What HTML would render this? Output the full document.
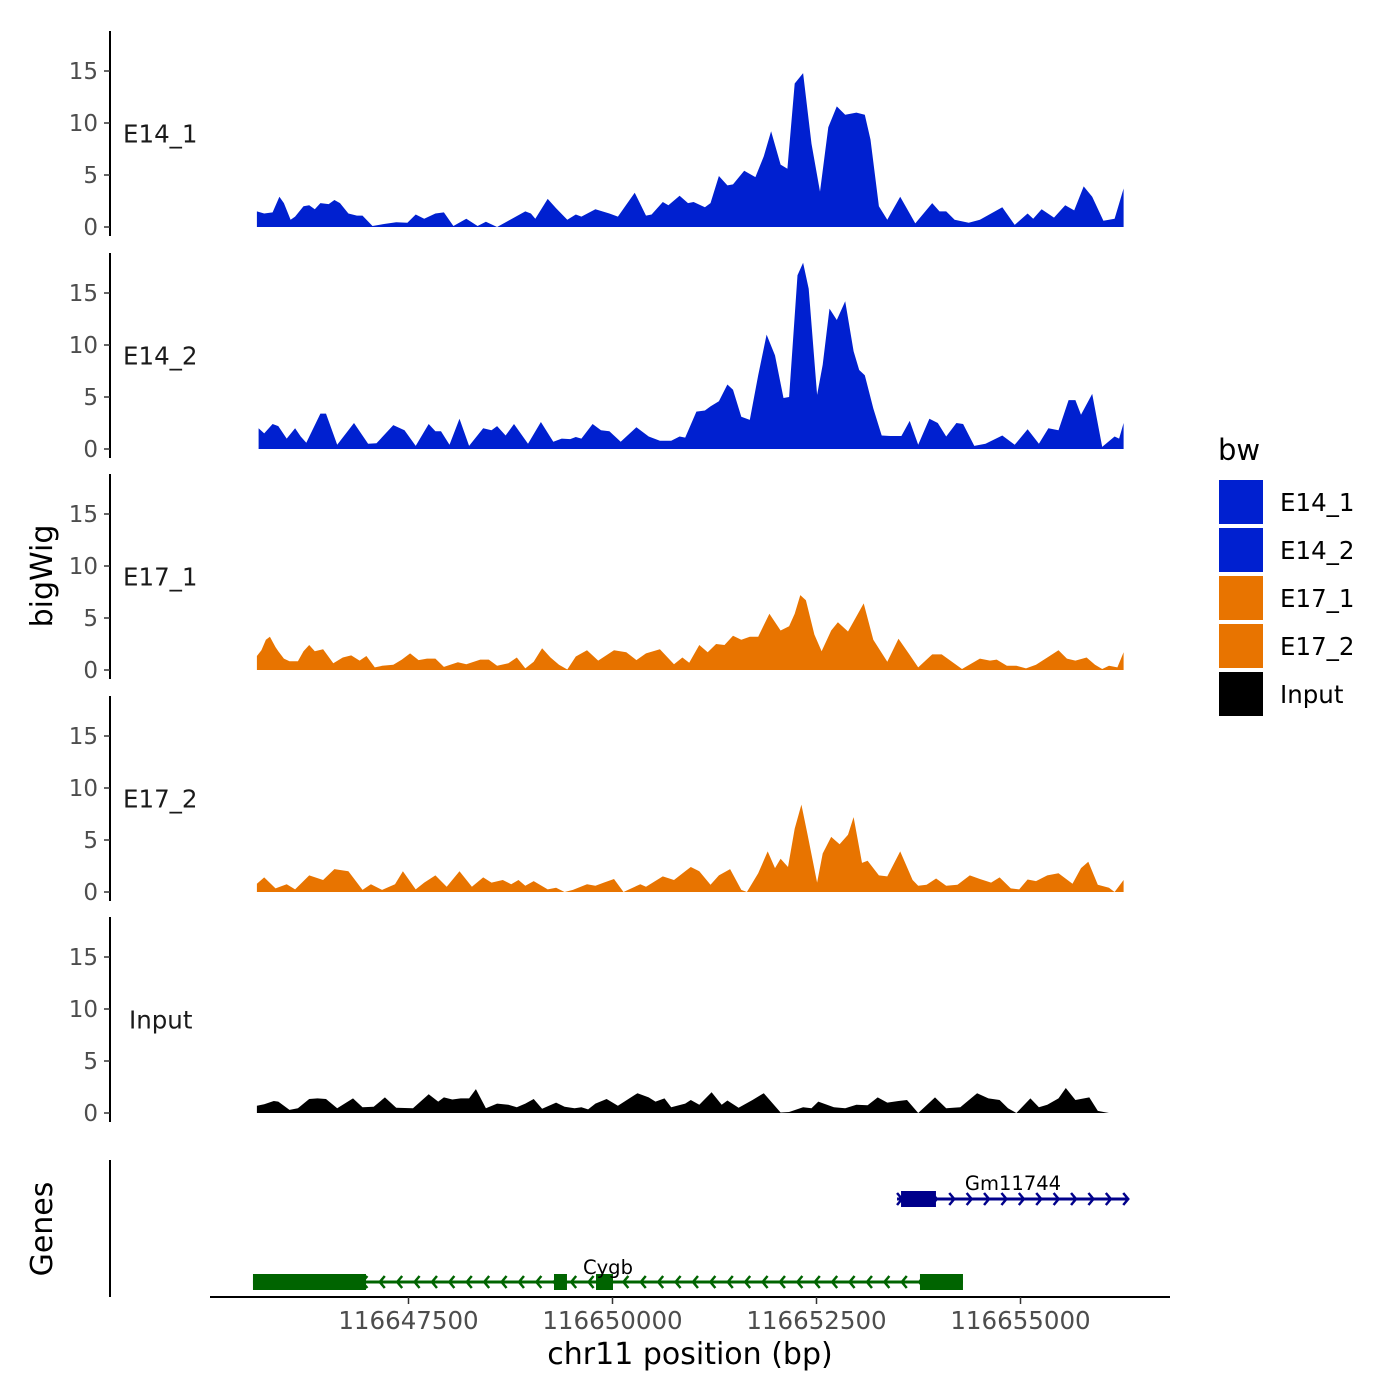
<!DOCTYPE html>
<html><head><meta charset="utf-8"><style>
html,body{margin:0;padding:0;background:#fff;}
svg{display:block;font-family:"DejaVu Sans","Liberation Sans",sans-serif;}
</style></head><body>
<svg id="chart" width="1400" height="1400" viewBox="0 0 1400 1400">
<rect width="1400" height="1400" fill="#fff"/>
<g id="tracks"></g>
<g id="genes"></g>
<g id="xaxis"></g>
<text x="52" y="576" transform="rotate(-90 52 576)" text-anchor="middle" font-size="30" fill="#000">bigWig</text>
<text x="52" y="1229" transform="rotate(-90 52 1229)" text-anchor="middle" font-size="30" fill="#000">Genes</text>
<text x="690" y="1364" text-anchor="middle" font-size="30" fill="#000">chr11 position (bp)</text>
<g id="legend">
<text x="1218" y="460" font-size="29" fill="#000">bw</text>
</g>
</svg>
<script>
const REGION_START = 116645560;
const trackNames = ["E14_1","E14_2","E17_1","E17_2","Input"];
const trackColors = ["#0020d0","#0020d0","#e87400","#e87400","#000000"];
const yTicks = [0,5,10,15];
const xTicks = [116647500,116650000,116652500,116655000];

const posE14_1 = [83,173,276,359,415,498,553,656,726,795,864,967,1037,1106,1209,1313,1382,1506,1658,1797,1935,2038,2142,2280,2384,2501,2660,2799,2902,3040,3179,3386,3455,3510,3662,3766,3904,4008,4077,4250,4422,4526,4733,4872,4941,5079,5148,5286,5390,5459,5597,5666,5770,5874,5943,6081,6219,6323,6412,6530,6613,6703,6806,6910,7014,7117,7221,7325,7463,7566,7636,7739,7843,8002,8188,8396,8485,8568,8672,8845,8983,9259,9411,9570,9639,9743,9895,10033,10144,10261,10365,10503,10641,10752];
const valE14_1 = [1.5,1.3,1.4,2.9,2.3,0.7,1.0,2.0,2.1,1.7,2.3,2.2,2.6,2.3,1.3,1.1,1.1,0.1,0.3,0.45,0.4,1.2,0.8,1.3,1.4,0.1,0.8,0.1,0.5,0,0.6,1.5,1.3,0.8,2.7,1.8,0.7,1.2,1.0,1.7,1.3,1.0,3.3,1.1,1.2,2.4,2.1,3.0,2.3,2.4,1.9,2.3,4.9,4.0,4.1,5.4,4.8,6.8,9.2,6.0,5.6,13.8,14.8,8.0,3.4,9.6,11.6,10.8,11.0,10.8,8.4,2.0,0.7,2.9,0.35,2.3,1.5,1.5,0.7,0.4,0.7,1.9,0.2,1.3,0.8,1.7,0.9,2.1,1.6,3.9,2.9,0.6,0.8,3.7];

const posE14_2 = [104,173,276,346,449,553,622,691,864,933,1071,1278,1451,1555,1762,1900,2038,2197,2280,2349,2453,2577,2695,2868,2971,3040,3144,3248,3420,3579,3731,3835,3939,4008,4077,4215,4319,4422,4561,4754,4906,5044,5183,5286,5355,5493,5597,5666,5770,5874,5943,6046,6150,6254,6357,6461,6565,6634,6737,6806,6875,6979,7048,7131,7221,7325,7428,7497,7566,7670,7774,7877,8016,8119,8223,8361,8465,8568,8693,8776,8914,9052,9259,9411,9570,9709,9826,9950,10075,10158,10227,10365,10489,10641,10697,10752];
const valE14_2 = [2.0,1.5,2.4,2.2,1.0,2.0,1.2,0.6,3.4,3.4,0.4,2.5,0.5,0.55,2.3,1.8,0.3,2.4,1.7,1.7,0.4,2.9,0.3,2.0,1.8,2.2,1.3,2.4,0.5,2.6,0.7,1.0,0.95,1.15,1.0,2.4,1.8,1.7,0.7,2.1,1.2,0.8,0.8,1.2,1.1,3.6,3.7,4.1,4.6,6.2,5.7,3.1,2.8,7.1,11.0,9.0,4.9,5.0,16.7,17.9,15.4,5.2,8.1,13.5,12.4,14.2,9.4,7.6,7.1,3.9,1.3,1.25,1.25,2.7,0.4,2.9,2.5,1.2,2.5,2.4,0.3,0.5,1.3,0.4,1.9,0.5,2.0,1.8,4.7,4.7,3.3,5.3,0.2,1.2,1.0,2.5];

const posE17_1 = [83,138,193,242,311,346,415,484,587,656,726,795,898,1023,1140,1244,1347,1430,1534,1624,1762,1866,1969,2073,2177,2280,2384,2557,2660,2833,2937,3040,3179,3282,3386,3490,3593,3697,3801,3904,4008,4146,4284,4478,4630,4754,4872,5044,5217,5321,5404,5528,5632,5735,5839,5943,6046,6150,6254,6392,6530,6634,6703,6772,6841,6945,7034,7152,7235,7359,7553,7670,7843,7981,8119,8223,8396,8513,8762,8983,9107,9190,9315,9432,9550,9674,9812,9950,10054,10158,10296,10400,10489,10572,10676,10752];
const valE17_1 = [1.35,1.9,2.9,3.2,2.2,1.8,1.1,0.85,0.85,1.8,2.4,1.8,2.0,0.65,1.2,1.4,0.9,1.35,0.25,0.4,0.5,1.0,1.6,0.95,1.1,1.1,0.3,0.75,0.55,1.0,1.0,0.4,0.65,1.2,0.15,0.8,2.1,1.2,0.5,0.05,1.3,1.9,0.9,1.9,1.7,0.95,1.6,2.0,0.55,1.2,0.7,2.4,1.7,2.5,2.4,3.3,2.9,3.2,3.2,5.4,3.8,4.2,5.4,7.2,6.7,3.4,1.8,3.8,4.6,3.7,6.4,2.9,0.8,3.0,1.45,0.25,1.5,1.5,0.1,1.1,0.9,1.0,0.4,0.4,0.15,0.5,1.2,1.9,1.1,0.9,1.2,0.5,0.1,0.4,0.25,1.7];

const posE17_2 = [83,173,311,449,553,726,898,1037,1209,1382,1486,1624,1783,1880,2038,2142,2280,2419,2577,2729,2868,2971,3110,3213,3303,3386,3490,3662,3766,3870,3973,4146,4250,4353,4478,4595,4802,4872,5079,5217,5355,5424,5528,5666,5770,5908,6046,6115,6254,6371,6461,6530,6620,6703,6786,6862,6979,7048,7152,7256,7359,7428,7532,7601,7739,7843,8002,8154,8223,8327,8444,8568,8707,8859,8983,9121,9225,9363,9467,9570,9674,9812,9950,10123,10227,10317,10434,10572,10641,10752];
const valE17_2 = [0.8,1.4,0.35,0.75,0.25,1.6,1.15,2.2,2.0,0.2,0.75,0.2,0.75,2.0,0.25,0.9,1.6,0.5,2.0,0.5,1.4,0.9,1.15,0.75,1.15,0.6,1.05,0.25,0.4,0,0.2,0.75,0.6,0.9,1.25,0,0.75,0.5,1.5,1.15,2.0,2.4,2.0,0.7,1.6,2.2,0.2,0,1.8,3.9,2.3,3.2,2.4,6.1,8.4,5.5,0.9,3.7,5.3,4.6,5.5,7.2,2.8,3.0,1.6,1.5,3.9,1.15,0.6,0.7,1.3,0.6,0.7,1.6,1.25,0.9,1.4,0.35,0.25,1.2,1.05,1.6,1.8,0.8,2.3,2.9,0.7,0.4,0,1.15];

const posInput = [83,173,290,346,484,587,726,829,933,1071,1265,1382,1520,1658,1797,2004,2197,2315,2384,2488,2591,2695,2778,2902,3040,3179,3282,3386,3490,3593,3766,3870,3994,4077,4160,4250,4388,4526,4768,4906,4989,5100,5183,5355,5424,5528,5680,5804,5874,6012,6184,6323,6530,6634,6806,6910,6993,7186,7325,7463,7601,7725,7843,7981,8085,8223,8430,8568,8741,8948,9087,9225,9329,9432,9605,9709,9812,9950,10040,10158,10330,10434,10538,10572];
const valInput = [0.7,0.85,1.15,1.1,0.3,0.45,1.35,1.4,1.35,0.45,1.4,0.55,0.6,1.5,0.5,0.45,1.8,1.1,1.5,1.3,1.4,1.4,2.3,0.45,0.9,0.8,0.55,0.9,1.35,0.4,1.0,0.6,0.45,0.55,0.35,0.9,1.35,0.7,1.9,1.5,1.1,1.4,0.55,0.9,1.25,0.8,2.0,0.8,1.2,0.5,1.25,1.9,0.05,0.1,0.55,0.45,1.1,0.55,0.45,0.8,0.75,1.5,1.0,1.15,1.25,0,1.5,0.45,0.55,1.9,1.4,1.25,0.45,0,1.4,0.55,0.8,1.4,2.4,1.25,1.5,0.2,0.05,0];

const geneNames = ["Cygb","Gm11744"];
const geneStarts = [116645594,116653487];
const geneEnds = [116654295,116656317];
const geneStrands = ["-","+"];
const cygbExonStarts = [116645594,116649283,116649798,116653768];
const cygbExonEnds = [116646979,116649442,116650006,116654295];
const gmExonStarts = [116653536];
const gmExonEnds = [116653964];

const NS = "http://www.w3.org/2000/svg";
function mk(tag, attrs, parent){const e=document.createElementNS(NS,tag);for(const k in attrs)e.setAttribute(k,attrs[k]);parent.appendChild(e);return e;}
function xScale(bp){return 612.5 + (bp-116650000)*0.0816;}
const OFFSET_CAL = 0.9955;
function posToBp(off){return REGION_START + off*OFFSET_CAL;}
const baselines = [227,449,670,892,1113];
const unitPx = 10.4;
function yScale(i,v){return baselines[i]-v*unitPx;}

const tracks = document.getElementById("tracks");
const allPos = [posE14_1,posE14_2,posE17_1,posE17_2,posInput];
const allVal = [valE14_1,valE14_2,valE17_1,valE17_2,valInput];
const labelX = [123,123,123,123,129];
trackNames.forEach((name,i)=>{
  const g = mk("g",{},tracks);
  
  
  const ax = mk("line",{x1:110,x2:110,y1:baselines[i]-196,y2:baselines[i]+9,stroke:"#000","stroke-width":2},g);
  
  
  yTicks.forEach(t=>{
    const y=yScale(i,t);
    const tk=mk("line",{x1:104,x2:110,y1:y,y2:y,stroke:"#333","stroke-width":1.5},g);
    
    
    const tl=mk("text",{x:98,y:y+8,"text-anchor":"end","font-size":23,fill:"#4d4d4d"},g);
    tl.textContent=t;
    
    
  });
  const lab=mk("text",{x:labelX[i],y:yScale(i,9)+9,"font-size":24.5,fill:"#1a1a1a"},g);
  lab.textContent=name;
  
  
  const P=allPos[i],V=allVal[i];
  let d="M"+xScale(posToBp(P[0])).toFixed(1)+","+baselines[i];
  for(let k=0;k<P.length;k++){d+=" L"+xScale(posToBp(P[k])).toFixed(1)+","+yScale(i,V[k]).toFixed(1);}
  d+=" L"+xScale(posToBp(P[P.length-1])).toFixed(1)+","+baselines[i]+" Z";
  const area=mk("path",{d:d,fill:trackColors[i],stroke:"none"},g);
  
  
});

// genes
const genes = document.getElementById("genes");
const gax = mk("line",{x1:110,x2:110,y1:1160,y2:1297,stroke:"#000","stroke-width":2},genes);


const geneY=[1282,1199], geneColor=["#006400","#00008b"];
const exS=[cygbExonStarts,gmExonStarts], exE=[cygbExonEnds,gmExonEnds];
const labelPos=[[608,1274],[1013,1190]];
geneNames.forEach((gn,i)=>{
  const g=mk("g",{},genes);
  
  
  const y=geneY[i], c=geneColor[i];
  const x0=xScale(geneStarts[i]), x1=xScale(geneEnds[i]);
  const ln=mk("line",{x1:x0,x2:x1,y1:y,y2:y,stroke:c,"stroke-width":3},g);
  
  
  const step=17.4;
  let dd="";
  for(let x=x0+5;x<=x1+1;x+=step){
    if(geneStrands[i]==="-"){dd+=`M${x+5},${y-6} L${x},${y} L${x+5},${y+6} `;}
    else{dd+=`M${x-5},${y-6} L${x},${y} L${x-5},${y+6} `;}
  }
  const ch=mk("path",{d:dd,fill:"none",stroke:c,"stroke-width":2.5},g);
  
  
  exS[i].forEach((s,k)=>{
    const ex=mk("rect",{x:xScale(s),y:y-8,width:xScale(exE[i][k])-xScale(s),height:16,fill:c},g);
    
    
  });
  const t=mk("text",{x:labelPos[i][0],y:labelPos[i][1],"text-anchor":"middle","font-size":19.5,fill:"#000"},g);
  t.textContent=gn;
  
  
});

// x axis
const xa=document.getElementById("xaxis");
const xl=mk("line",{x1:210,x2:1170,y1:1297,y2:1297,stroke:"#000","stroke-width":2},xa);


xTicks.forEach(t=>{
  const x=xScale(t);
  const tk=mk("line",{x1:x,x2:x,y1:1297,y2:1304,stroke:"#333","stroke-width":1.5},xa);
  
  
  const tl=mk("text",{x:x,y:1329,"text-anchor":"middle","font-size":24.5,fill:"#4d4d4d"},xa);
  tl.textContent=t;
  
  
});

// legend
const lg=document.getElementById("legend");
const legendTops=[480,528,576,624,672];
trackNames.forEach((n,i)=>{
  const r=mk("rect",{x:1219,y:legendTops[i],width:44,height:44,fill:trackColors[i]},lg);
  
  
  const t=mk("text",{x:1280,y:legendTops[i]+31,"font-size":24.5,fill:"#000"},lg);
  t.textContent=n;
  
  
});
</script>
</body></html>
